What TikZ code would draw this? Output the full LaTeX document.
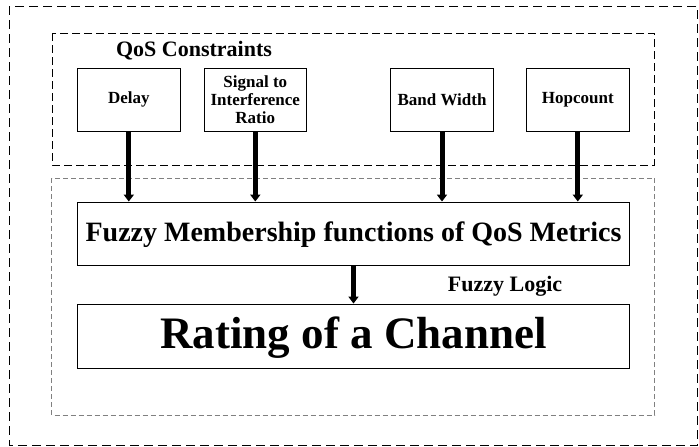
\documentclass[tikz,border=0pt]{standalone}
\usepackage{fontspec}
\setmainfont{Liberation Serif}
\usetikzlibrary{arrows.meta}
\begin{document}
\begin{tikzpicture}[x=1pt,y=-1pt,
  metric/.style={draw,line width=0.9pt,minimum width=102.5pt,minimum height=63pt,inner sep=0pt,align=center,
    font=\bfseries\fontsize{17}{18}\selectfont},
  bigbox/.style={draw,line width=0.9pt,minimum width=552pt,inner sep=0pt},
  thickarrow/.style={line width=5pt,-{Triangle[width=10pt,length=7pt]}},
  outerbox/.style={draw,line width=0.9pt,dash pattern=on 9pt off 5pt},
  qosbox/.style={draw,line width=0.9pt,dash pattern=on 8pt off 4pt},
  fuzzbox/.style={draw,gray,line width=0.7pt,dash pattern=on 5pt off 3pt}]
\useasboundingbox (0,0) rectangle (699,447);
\draw[outerbox] (9,6) rectangle (697.5,445);
\draw[qosbox] (52,33) rectangle (654,165);
\draw[fuzzbox] (51.5,178) rectangle (654.5,415);

\node[anchor=base,font=\bfseries\fontsize{22}{24}\selectfont] (qos) at (194,56) {QoS Constraints};

\node[metric] (delay) at (128.8,99.5) {Delay};
\node[metric] (sir) at (255.3,99.5) {Signal to\\Interference\\Ratio};
\node[metric] (bw) at (442,99.5) {Band Width};
\node[metric] (hop) at (577.8,99.5) {Hopcount};

\node[bigbox,minimum height=63pt] (fm) at (353.5,233.5) {};
\node[anchor=base,font=\bfseries\fontsize{28}{30}\selectfont] (fmt) at (353.5,241.7) {Fuzzy Membership functions of QoS Metrics};

\node[bigbox,minimum height=64pt] (rate) at (353.5,336) {};
\node[anchor=base,font=\bfseries\fontsize{45}{48}\selectfont] (ratet) at (353.5,348.3) {Rating of a Channel};

\node[anchor=base,font=\bfseries\fontsize{22}{24}\selectfont] (fl) at (505,291.7) {Fuzzy Logic};

\foreach \n in {delay,sir,bw,hop}{
  \draw[thickarrow] (\n.south) -- (\n.south |- fm.north);
}
\draw[thickarrow] (fm.south) -- (rate.north);
\end{tikzpicture}
\end{document}
